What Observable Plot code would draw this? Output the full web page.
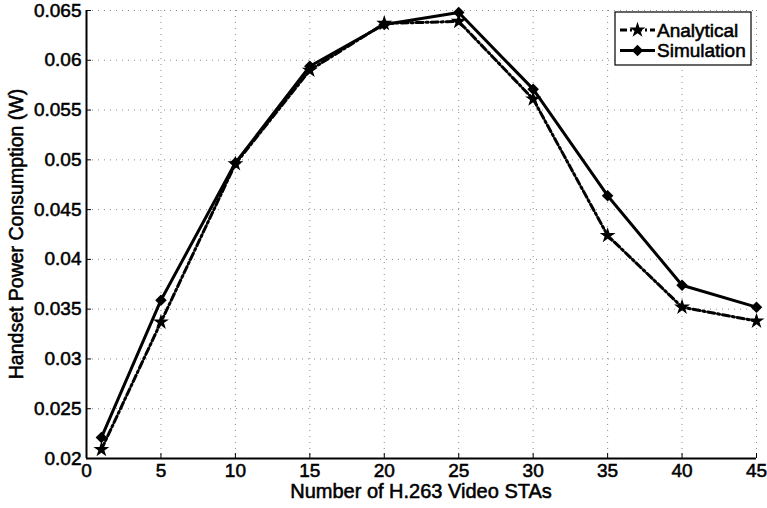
<!DOCTYPE html>
<html><head><meta charset="utf-8">
<script src="https://cdn.jsdelivr.net/npm/d3@7"></script>
<script src="https://cdn.jsdelivr.net/npm/@observablehq/plot@0.6"></script>
<style>
body{margin:0;background:#fff}
svg{font-family:"Liberation Sans",Arial,Helvetica,sans-serif}
svg text{stroke:#000;stroke-width:0.55px;fill:#000}
</style>
</head><body><div id="chart"></div>
<script>
// ---- data ----
const stas = [1, 5, 10, 15, 20, 25, 30, 35, 40, 45];
const analytical = [0.0209, 0.0337, 0.0496, 0.0590, 0.0637, 0.0639, 0.0561, 0.0424, 0.0352, 0.0338];
const simulation = [0.0221, 0.0359, 0.0497, 0.0594, 0.0636, 0.0648, 0.0571, 0.0464, 0.0374, 0.0352];
const xTicks = [0, 5, 10, 15, 20, 25, 30, 35, 40, 45];
const yTicks = [0.02, 0.025, 0.03, 0.035, 0.04, 0.045, 0.05, 0.055, 0.06, 0.065];
const seriesNames = ["Analytical", "Simulation"];
const xLabel = "Number of H.263 Video STAs";
const yLabel = "Handset Power Consumption (W)";

const dataA = stas.map((x, i) => ({x, y: analytical[i]}));
const dataS = stas.map((x, i) => ({x, y: simulation[i]}));

const dashDot = "7,3,2,3";
const gridStyle = {stroke: "#000", strokeOpacity: 0.45, strokeDasharray: "1,5", strokeWidth: 1};

const plot = Plot.plot({
  width: 767,
  height: 508,
  marginLeft: 86,
  marginRight: 11,
  marginTop: 10,
  marginBottom: 50,
  style: {fontFamily: '"Liberation Sans", Arial, sans-serif', color: "#000", background: "#fff"},
  x: {domain: [xTicks[0], xTicks[xTicks.length - 1]]},
  y: {domain: [yTicks[0], yTicks[yTicks.length - 1]]},
  marks: [
    Plot.gridX(xTicks, gridStyle),
    Plot.gridY(yTicks, gridStyle),
    Plot.line(dataA, {x: "x", y: "y", stroke: "#000", strokeWidth: 3, strokeDasharray: dashDot}),
    Plot.line(dataS, {x: "x", y: "y", stroke: "#000", strokeWidth: 3}),
    Plot.dot(dataA, {x: "x", y: "y", symbol: d3.symbolStar, r: 5, fill: "#000"}),
    Plot.dot(dataS, {x: "x", y: "y", symbol: d3.symbolDiamond2, r: 5.2, fill: "#000"}),
    Plot.ruleX([xTicks[0]], {stroke: "#000", strokeWidth: 2}),
    Plot.ruleY([yTicks[0]], {stroke: "#000", strokeWidth: 2}),
    Plot.axisX({ticks: xTicks, tickSize: -5, tickPadding: 10, fontSize: 19, label: null, tickFormat: d => String(d)}),
    Plot.axisY({ticks: yTicks, tickSize: -5, tickPadding: 10, fontSize: 19, label: null, tickFormat: d => String(d)})
  ]
});

document.getElementById("chart").appendChild(plot);

// axis labels and legend
const svg = d3.select(plot);
const xr = plot.scale("x").range, yr = plot.scale("y").range;
svg.append("text")
  .attr("x", (xr[0] + xr[1]) / 2).attr("y", 498)
  .attr("text-anchor", "middle").attr("font-size", 20)
  .text(xLabel);
svg.append("text")
  .attr("transform", `translate(23,${(yr[0] + yr[1]) / 2}) rotate(-90)`)
  .attr("text-anchor", "middle").attr("font-size", 19.5)
  .text(yLabel);

const lg = svg.append("g").attr("transform", "translate(615,12)");
lg.append("rect").attr("width", 136).attr("height", 53).attr("fill", "#fff").attr("stroke", "#000").attr("stroke-width", 1.2);
const symbols = [d3.symbolStar, d3.symbolDiamond2];
const dashes = [dashDot, null];
const sizes = [Math.PI * 5 * 5, Math.PI * 5.2 * 5.2];
seriesNames.forEach((name, i) => {
  const cy = 18 + i * 20.5;
  lg.append("line").attr("x1", 5).attr("x2", 40).attr("y1", cy).attr("y2", cy)
    .attr("stroke", "#000").attr("stroke-width", 3).attr("stroke-dasharray", dashes[i]);
  lg.append("path").attr("transform", `translate(22.5,${cy})`)
    .attr("d", d3.symbol(symbols[i], sizes[i])()).attr("fill", "#000");
  lg.append("text").attr("x", 42).attr("y", cy + 6.5).attr("text-anchor", "start")
    .attr("font-size", 19).text(name);
});
</script>
</body></html>
